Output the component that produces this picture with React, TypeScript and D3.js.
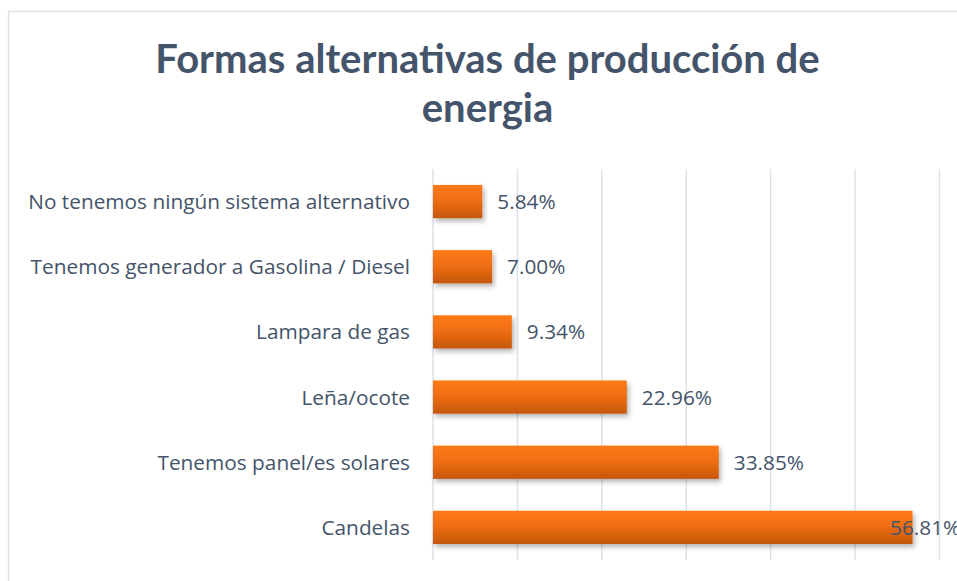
import React from "react";
import * as d3 from "d3";

const titleLines = ["Formas alternativas de producción de", "energia"];
const categories = [
  "No tenemos ningún sistema alternativo",
  "Tenemos generador a Gasolina / Diesel",
  "Lampara de gas",
  "Leña/ocote",
  "Tenemos panel/es solares",
  "Candelas",
];
const values = [5.84, 7.0, 9.34, 22.96, 33.85, 56.81];
const xTicks = [0, 10, 20, 30, 40, 50, 60];

const W = 957;
const H = 581;
const TEXT = "#44546A";
const TITLE_FONT = "Lato, 'Open Sans', sans-serif";
const FONT = "'Open Sans', Lato, sans-serif";

export default function App() {
  const x = d3.scaleLinear().domain([0, 60]).range([433, 939.5]);
  const y = d3.scaleBand<string>().domain(categories).range([169, 560]).paddingInner(0.49).paddingOuter(0.245);

  return (
    <svg
      width={W}
      height={H}
      style={{ position: "absolute", left: 0, top: 0, display: "block", background: "#fff" }}
    >
      <defs>
        <linearGradient id="barGrad" x1="0" y1="0" x2="0" y2="1">
          <stop offset="0%" stopColor="#FF7A14" />
          <stop offset="45%" stopColor="#F06E12" />
          <stop offset="100%" stopColor="#C5570F" />
        </linearGradient>
        <filter id="shadow" x="-5%" y="-30%" width="115%" height="180%">
          <feDropShadow dx="2" dy="3" stdDeviation="2.5" floodColor="#000" floodOpacity="0.3" />
        </filter>
      </defs>
      <rect x={8.5} y={11.5} width={W + 10} height={H + 10} fill="#fff" stroke="#DDE2E8" strokeWidth={1.5} />
      {titleLines.map((t, i) => (
        <text
          key={i}
          x={487.5}
          y={73 + i * 49}
          textAnchor="middle"
          fontFamily={TITLE_FONT}
          fontWeight={700}
          fontSize={40}
          fill={TEXT}
        >
          {t}
        </text>
      ))}
      {xTicks.map((t) => (
        <line key={t} x1={x(t)} x2={x(t)} y1={169} y2={560} stroke="#DDE2EA" strokeWidth={1.5} />
      ))}
      {categories.map((c, i) => {
        const yy = y(c)!;
        const bh = y.bandwidth();
        const xe = x(values[i]);
        const lx = Math.min(xe + 15, 890);
        return (
          <g key={c}>
            <rect
              x={x(0)}
              y={yy}
              width={xe - x(0)}
              height={bh}
              fill="url(#barGrad)"
              filter="url(#shadow)"
            />
            <text
              x={410}
              y={yy + bh / 2}
              dy="0.36em"
              textAnchor="end"
              fontFamily={FONT}
              fontSize={20.8}
              fill={TEXT}
            >
              {c}
            </text>
            <text x={lx} y={yy + bh / 2} dy="0.36em" fontFamily={FONT} fontSize={20.8} fill={TEXT}>
              {values[i].toFixed(2) + "%"}
            </text>
          </g>
        );
      })}
    </svg>
  );
}
